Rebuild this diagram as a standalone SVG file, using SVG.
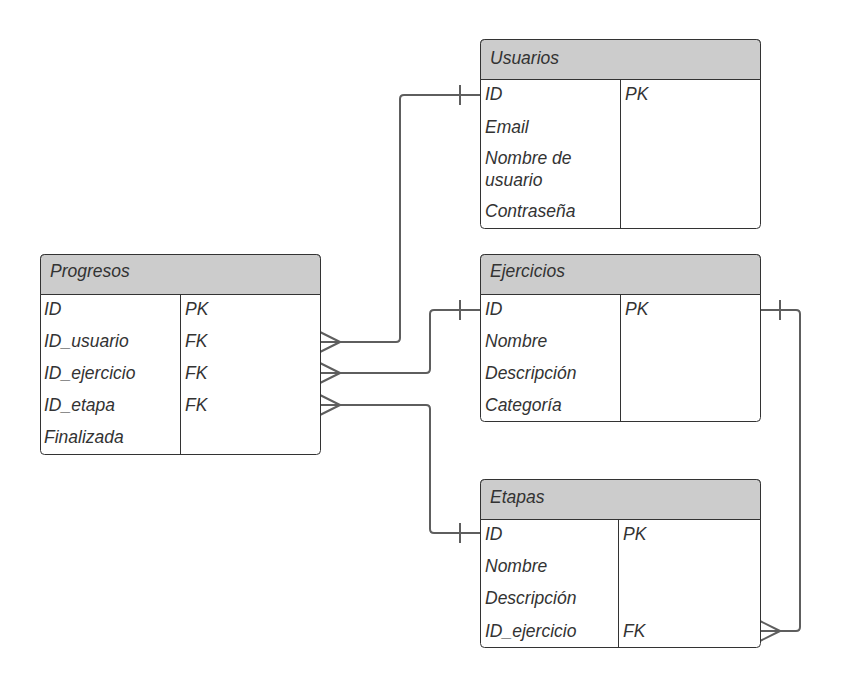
<svg xmlns="http://www.w3.org/2000/svg" width="841" height="688" viewBox="0 0 841 688">
<style>
.box{fill:#ffffff;stroke:#333333;stroke-width:1}
.hdr{fill:#cccccc;stroke:#333333;stroke-width:1}
.div{stroke:#333333;stroke-width:1;fill:none}
.t{font-family:"Liberation Sans",Arial,sans-serif;font-style:italic;font-size:17.5px;fill:#333333}
.c{fill:none;stroke:#5e5e5e;stroke-width:2;stroke-linejoin:round}
</style>
<rect width="841" height="688" fill="#ffffff"/>
<g id="connectors">
  <path class="c" d="M320,342 H396 Q400,342 400,338 V99 Q400,95 404,95 H480"/>
  <path class="c" d="M460,85 V105"/>
  <path class="c" d="M320,332 L340,342 L320,352"/>
  <path class="c" d="M320,373 H426 Q430,373 430,369 V314 Q430,310 434,310 H480"/>
  <path class="c" d="M460,300 V320"/>
  <path class="c" d="M320,363 L340,373 L320,383"/>
  <path class="c" d="M320,405 H426 Q430,405 430,409 V529 Q430,533 434,533 H480"/>
  <path class="c" d="M460,523 V543"/>
  <path class="c" d="M320,395 L340,405 L320,415"/>
  <path class="c" d="M760,310 H796 Q800,310 800,314 V627 Q800,631 796,631 H760"/>
  <path class="c" d="M780,300 V320"/>
  <path class="c" d="M760,621 L780,631 L760,641"/>
</g>
<g id="usuarios">
  <rect class="box" x="480.5" y="39.5" width="280" height="189" rx="4"/>
  <path class="hdr" d="M480.5,79.5 V43.5 Q480.5,39.5 484.5,39.5 H756.5 Q760.5,39.5 760.5,43.5 V79.5 Z"/>
  <path class="div" d="M620.5,79.5 V228.5"/>
  <text class="t" x="490" y="64">Usuarios</text>
  <text class="t" x="485" y="100">ID</text>
  <text class="t" x="625" y="100">PK</text>
  <text class="t" x="485" y="133">Email</text>
  <text class="t" x="485" y="164">Nombre de</text>
  <text class="t" x="485" y="186">usuario</text>
  <text class="t" x="485" y="217">Contraseña</text>
</g>
<g id="progresos">
  <rect class="box" x="40.5" y="254.5" width="280" height="200" rx="4"/>
  <path class="hdr" d="M40.5,294.5 V258.5 Q40.5,254.5 44.5,254.5 H316.5 Q320.5,254.5 320.5,258.5 V294.5 Z"/>
  <path class="div" d="M180.5,294.5 V454.5"/>
  <text class="t" x="50" y="277">Progresos</text>
  <text class="t" x="44" y="315">ID</text>
  <text class="t" x="185" y="315">PK</text>
  <text class="t" x="44" y="347">ID_usuario</text>
  <text class="t" x="185" y="347">FK</text>
  <text class="t" x="44" y="379">ID_ejercicio</text>
  <text class="t" x="185" y="379">FK</text>
  <text class="t" x="44" y="411">ID_etapa</text>
  <text class="t" x="185" y="411">FK</text>
  <text class="t" x="44" y="443">Finalizada</text>
</g>
<g id="ejercicios">
  <rect class="box" x="480.5" y="254.5" width="280" height="167" rx="4"/>
  <path class="hdr" d="M480.5,294.5 V258.5 Q480.5,254.5 484.5,254.5 H756.5 Q760.5,254.5 760.5,258.5 V294.5 Z"/>
  <path class="div" d="M620.5,294.5 V421.5"/>
  <text class="t" x="490" y="277">Ejercicios</text>
  <text class="t" x="485" y="315">ID</text>
  <text class="t" x="625" y="315">PK</text>
  <text class="t" x="485" y="347">Nombre</text>
  <text class="t" x="485" y="379">Descripción</text>
  <text class="t" x="485" y="411">Categoría</text>
</g>
<g id="etapas">
  <rect class="box" x="480.5" y="479.5" width="280" height="168" rx="4"/>
  <path class="hdr" d="M480.5,519.5 V483.5 Q480.5,479.5 484.5,479.5 H756.5 Q760.5,479.5 760.5,483.5 V519.5 Z"/>
  <path class="div" d="M618.5,519.5 V647.5"/>
  <text class="t" x="490" y="503">Etapas</text>
  <text class="t" x="485" y="540">ID</text>
  <text class="t" x="623" y="540">PK</text>
  <text class="t" x="485" y="572">Nombre</text>
  <text class="t" x="485" y="604">Descripción</text>
  <text class="t" x="485" y="637">ID_ejercicio</text>
  <text class="t" x="623" y="637">FK</text>
</g>
</svg>
